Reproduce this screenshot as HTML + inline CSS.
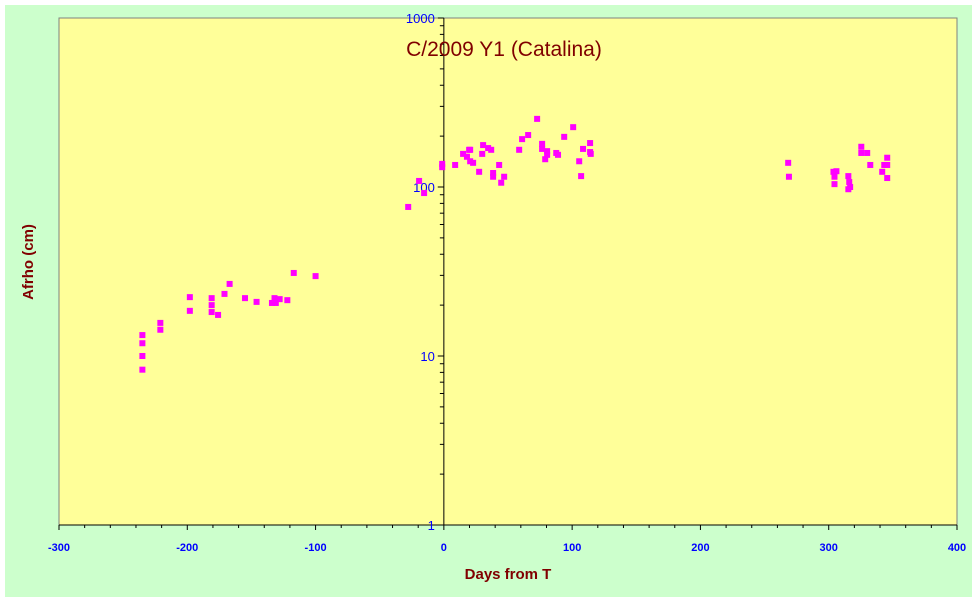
<!DOCTYPE html>
<html><head><meta charset="utf-8"><style>
body{margin:0;background:#fff;}
svg{display:block;font-family:"Liberation Sans",Arial,sans-serif;}
</style></head><body>
<svg width="978" height="601">
<rect x="5" y="5" width="967" height="592" fill="#ccffcc"/>
<rect x="59" y="18" width="898" height="507" fill="#ffff99" stroke="#808080" stroke-width="1"/>
<g id="axes"></g>
<g id="marks"></g>
<text x="504" y="56" text-anchor="middle" font-size="21" fill="#800000">C/2009 Y1 (Catalina)</text>
<text x="508" y="579" text-anchor="middle" font-size="15" font-weight="bold" fill="#800000">Days from T</text>
<text x="33" y="262" text-anchor="middle" font-size="15" font-weight="bold" fill="#800000" transform="rotate(-90 33 262)">Afrho (cm)</text>
</svg>
<script>
const days=[-235,-235,-235,-235,-221,-221,-198,-198,-181,-181,-181,-176,-171,-167,-155,-146,-134,-132,-128,-131,-122,-117,-100,
-27.8,-19.3,-15.4,-1.3,-1.3,8.8,15,19.7,20.5,18,20.5,22.8,30.6,29.9,34.5,36.9,27.5,38.4,38.4,43.1,47,44.7,58.7,61,65.7,72.7,76.6,76.6,80.5,80.5,79,87.6,89,93.8,100.8,108.5,105.5,107,114,114,114.5,
268.4,269,303.7,306,304.5,304.5,315.3,316,315.3,316.7,325.4,325.4,330,332.4,345.6,343.3,345.6,341.7,345.6];
const afrho=[13.3,11.9,10,8.3,15.7,14.3,22.3,18.5,22,20,18.2,17.5,23.3,26.7,22,20.9,20.6,22,21.7,20.6,21.4,31,29.7,
76.2,108.6,92.1,131,137,135,157,166,142,151,166,139,177,157,170,166,123,121,115,135,115,106,166,192,203,253,180,168,163,155,146,159,155,198,226,168,142,116,182,161,157,
139,115,123,124,115,104,116,107,97,100,173,159,159,135,149,135,135,123,113];
const xTicks=[-300,-200,-100,0,100,200,300,400];
const yTicks=[1,10,100,1000];
const X0=59,X1=957,Y0=525,Y1=18;
const xs=d=>X0+(d+300)/700*(X1-X0);
const ys=v=>Y0-(Math.log10(v))/3*(Y0-Y1);
const NS="http://www.w3.org/2000/svg";
function mk(t,a,p){const e=document.createElementNS(NS,t);for(const k in a)e.setAttribute(k,a[k]);p.appendChild(e);return e;}
const ax=document.getElementById('axes');
const xa=mk('line',{x1:X0,x2:X1,y1:Y0,y2:Y0,stroke:'#000'},ax);


const ya=mk('line',{x1:xs(0),x2:xs(0),y1:Y0,y2:Y1,stroke:'#000'},ax);


for(let d=-300;d<=400;d+=20){const maj=d%100===0;mk('line',{x1:xs(d),x2:xs(d),y1:Y0,y2:Y0+(maj?5:3),stroke:'#000'},ax);}
xTicks.forEach(d=>{const t=mk('text',{x:xs(d),y:Y0+26,'text-anchor':'middle','font-size':11,'font-weight':'bold',fill:'#0000ff'},ax);t.textContent=d;

});
for(let e=0;e<3;e++)for(let m=1;m<=10;m++){const v=m*Math.pow(10,e);mk('line',{x1:xs(0)-(m===1||m===10?6:4),x2:xs(0),y1:ys(v),y2:ys(v),stroke:'#000'},ax);}
yTicks.forEach(v=>{const t=mk('text',{x:xs(0)-9,y:ys(v)+5,'text-anchor':'end','font-size':13,fill:'#0000ff'},ax);t.textContent=v;

});
const mg=document.getElementById('marks');
days.forEach((d,i)=>{const r=mk('rect',{x:xs(d)-3,y:ys(afrho[i])-3,width:6,height:6,fill:'#ff00ff'},mg);

});
</script>
</body></html>
